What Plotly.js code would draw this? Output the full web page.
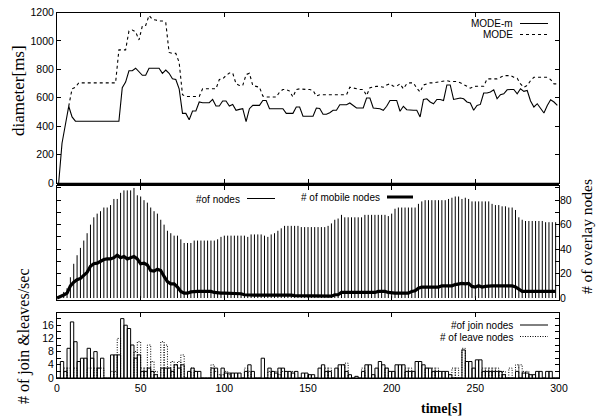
<!DOCTYPE html>
<html><head><meta charset="utf-8">
<script src="https://cdn.plot.ly/plotly-3.0.1.min.js"></script>
<style>html,body{margin:0;padding:0;background:#fff;}#chart{width:596px;height:419px;}</style>
</head><body><div id="chart"></div>
<script>
// ---------- DATA ----------
const timeOdd = [1,3,5,7,9,11,13,15,17,19,21,23,25,27,29,31,33,35,37,39,41,43,45,47,49,51,53,55,57,59,
61,63,65,67,69,71,73,75,77,79,81,83,85,87,89,91,93,95,97,99,101,103,105,107,109,111,113,115,117,119,
121,123,125,127,129,131,133,135,137,139,141,143,145,147,149,151,153,155,157,159,161,163,165,167,169,171,173,175,177,179,
181,183,185,187,189,191,193,195,197,199,201,203,205,207,209,211,213,215,217,219,221,223,225,227,229,231,233,235,237,239,
241,243,245,247,249,251,253,255,257,259,261,263,265,267,269,271,273,275,277,279,281,283,285,287,289,291,293,295,297,299];
const timeEven = [0,2,4,6,8,10,12,14,16,18,20,22,24,26,28,30,32,34,36,38,40,42,44,46,48,50,52,54,56,58,
60,62,64,66,68,70,72,74,76,78,80,82,84,86,88,90,92,94,96,98,100,102,104,106,108,110,112,114,116,118,
120,122,124,126,128,130,132,134,136,138,140,142,144,146,148,150,152,154,156,158,160,162,164,166,168,170,172,174,176,178,
180,182,184,186,188,190,192,194,196,198,200,202,204,206,208,210,212,214,216,218,220,222,224,226,228,230,232,234,236,238,
240,242,244,246,248,250,252,254,256,258,260,262,264,266,268,270,272,274,276,278,280,282,284,286,288,290,292,294,296,298];

// diameter [ms]
const modeM = [0,280,410,540,465,435,435,435,435,435,
435,435,435,435,435,435,435,435,435,670,
710,790,790,808,785,758,758,808,808,808,
808,772,795,772,733,728,663,490,490,445,
507,507,570,565,565,565,588,542,542,577,
577,542,553,512,518,523,432,523,546,546,
546,581,581,523,523,523,523,523,490,490,
490,535,535,470,470,470,470,528,525,484,
484,495,512,512,551,551,551,563,546,528,
528,528,598,598,528,528,523,512,540,581,
581,581,505,540,516,512,512,512,465,588,
593,570,558,588,588,581,690,690,588,593,
598,593,570,563,512,546,553,633,633,640,
656,593,621,628,656,658,658,628,663,645,
651,577,535,558,523,493,546,586,570,546];
const mode = [null,null,null,540,663,674,705,705,705,705,
705,705,705,705,705,705,705,705,937,937,
937,1070,1077,1063,1007,1105,1109,1179,1151,1147,
1140,1140,1128,919,912,912,849,621,609,609,
609,609,609,663,663,663,663,663,728,733,
756,774,774,698,686,686,763,772,686,681,
674,612,605,605,605,605,640,658,658,647,
605,658,663,658,658,658,651,612,621,621,
621,621,621,621,621,621,621,674,667,663,
658,658,616,670,674,681,679,674,690,698,
681,681,698,663,698,705,705,667,640,690,
698,705,705,709,714,721,721,714,714,714,
705,690,681,667,679,681,681,681,733,733,
737,733,744,756,756,756,744,737,698,674,
686,721,744,744,744,744,744,728,698,698];

// overlay nodes
const nodes = [0,1,5,8,17,28,35,41,47,53,
60,66,69,71,74,74,76,81,81,86,
88,88,88,90,84,83,80,78,74,71,
69,64,60,55,53,51,51,48,45,45,
45,47,47,47,47,47,47,47,48,50,
51,51,51,51,51,51,51,50,52,52,
52,52,51,50,52,53,55,57,59,59,
59,59,59,58,58,58,58,58,58,58,
58,59,61,64,65,68,66,66,66,66,
66,66,68,68,68,68,68,68,68,67,
69,73,74,74,74,74,74,74,77,79,
80,80,80,80,80,80,80,81,82,83,
83,81,82,81,79,79,79,79,79,79,
77,76,76,75,75,74,74,72,66,64,
63,63,63,63,63,63,62,62,62,62];
const mobile = [0,1,2.5,4,10,13,15,16,18.5,21,
26,28,28.5,30,31.5,32,32,33,35,33,
34,32,33,34,32,28,28.5,27,22.5,22,
23.6,22.5,17.6,13.5,11.6,11.6,9,5.4,4,4,
5,5.4,5.4,5.4,5.4,5.4,5.4,4.6,4,4,
4,4,3.5,3.5,3.5,3.5,2.7,2.4,2.4,2.4,
2.4,2.4,2.4,2.4,2.4,2.4,3,3,3,3,
2.4,2,2,2,2,2,2,1.5,1.5,1.5,
1.5,1.5,1.5,2.7,2.7,4.6,4.6,4.6,4.6,4.6,
4.6,4.6,4.6,4.6,4.6,4.6,5.4,5.4,5.4,4.6,
4,4,4,4,4,4,5.4,6,8,9,
9,9,9,9,9,10,10,10,10,11,
11.6,12,11.6,12,9.5,9,10,9,9.5,10,
10,10,10,10,10,10,10,9,7.3,5.4,
5.4,5.4,5.4,5.4,5.4,5,5.4,5.4,5.4,5.4];

// joins / leaves per second
const joins = [0,5,2,9,17,11,5,6,6,9,
6,8,3,6,0,0,7,7,7,18,
16,15,10,6,7,2,2,3,2,1,
0,3,3,3,2,4,3,4,0,2,
3,2,2,0,0,0,3,3,0,3,
1.5,1.5,1.5,1.5,1.5,0,2,4,2,0,
0,6,0,3,2,1.5,3,3,2,2,
1.5,2,0,1.5,1.5,1,1,0,3,4,
2,2,0,3,4,4,2,1,0,0.5,
0,2,4,4,1,3,5,4,3,2,
2,4,4,4,2,2,2,5,5,4,
3,3,2,2,2,2,2,1,0,0,
0,8.5,5,5,3,5.5,5.5,2,2,2,
2,2,2,1,0,0,0,2,0,1.5,
1.5,1,1,2,2,0,2,2,0,0];
const leaves = [0,0,3,3,0,3,0,0,0,3,
3,3,3,3,0,0,2,2,12,0,
0,0,0,8,11,3,3,10,5,2,
0,11,10,3,5,4,5,7,0,0,
3,2,0,0,0,0,4,2,1,1,
2,1,0,0,0,0,3,2,0,0,
0,0,0,2,2,2,1,2,0,0,
2,0,0,0,0,0,0,0,0,0,
3,3,0,0,0,4,4.5,0,0,0,
0,3,0,0,0,0,0,0,3,0,
0,0,0,0,3,3,0,0,0,0,
3,0,3,3,0,0,0,0,3,3,
0,9,0,0,0,0,0,3,3,3,
3,3,2,2,0,3,0,4,4,2,
2,0,0,0,0,0,0,0,0,0];

const xTicks = [0,50,100,150,200,250,300];
const xTickText = ['0','50','100','150','200','250','300'];
const diamTicks = [0,200,400,600,800,1000,1200];
const overlayTicks = [0,20,40,60,80];
const leftMidTicks = [10,20,30,40,50,60,70,80,90];
const rateTicks = [0,2,4,6,8,10,12,14,16,18];
const rateTickText = ['0','','4','','8','','12','','16',''];

// ---------- helpers ----------
const W=596, H=419;
const fx = x => x/W, fy = y => 1 - y/H;
const SANS = 'Liberation Sans, Arial, sans-serif';
const SERIF = 'Liberation Serif, Times New Roman, serif';

// impulses for # of nodes: built from data
const impX=[], impY=[];
timeEven.forEach((t,i)=>{ impX.push(t,t,null); impY.push(0,nodes[i],null); });
// leave boxes outline: built from data
const lvX=[], lvY=[];
timeOdd.forEach((t,i)=>{ if(leaves[i]>0){ lvX.push(t-1,t-1,t+1,t+1,null); lvY.push(0,leaves[i],leaves[i],0,null);} });

const traces = [
  {x: timeOdd, y: modeM, xaxis:'x', yaxis:'y', mode:'lines', line:{color:'#000', width:1.1}, name:'MODE-m'},
  {x: timeOdd, y: mode, xaxis:'x', yaxis:'y', mode:'lines', line:{color:'#000', width:1.1, dash:'3px,3px'}, name:'MODE'},
  {x: impX, y: impY, xaxis:'x2', yaxis:'y2', mode:'lines', line:{color:'#000', width:1}, name:'#of nodes'},
  {x: timeEven, y: mobile, xaxis:'x2', yaxis:'y3', mode:'lines', line:{color:'#000', width:3.2}, name:'# of mobile nodes'},
  {x: lvX, y: lvY, xaxis:'x3', yaxis:'y4', mode:'lines', line:{color:'#000', width:1, dash:'1px,1.5px'}, name:'# of leave nodes'},
  {type:'bar', x: timeOdd, y: joins, width: 2, xaxis:'x3', yaxis:'y4', marker:{color:'rgba(0,0,0,0)', line:{color:'#000', width:1}}, name:'#of join nodes'}
];

const tickfont = {family:SANS, size:10.5, color:'#000'};
const legfont = {family:SANS, size:10, color:'#000'};
const xBase = {domain:[fx(57), fx(559)], range:[0,300], tickvals:xTicks, ticktext:xTickText, ticks:'inside', ticklen:4, tickcolor:'#000',
  showline:true, linecolor:'#000', linewidth:1, mirror:'ticks', showgrid:false, zeroline:false, tickfont:tickfont, fixedrange:true};
const yBase = {ticks:'inside', ticklen:4, tickcolor:'#000', showline:true, linecolor:'#000', linewidth:1, mirror:'ticks',
  showgrid:false, zeroline:false, tickfont:tickfont, fixedrange:true};

function leg(text, x, y){ return {text:text, x:fx(x), y:fy(y), xref:'paper', yref:'paper', xanchor:'right', yanchor:'middle', showarrow:false, borderpad:0, font:legfont}; }
function sample(x0, x1, y, width, dash){ return {type:'line', xref:'paper', yref:'paper', x0:fx(x0), x1:fx(x1), y0:fy(y), y1:fy(y), line:{color:'#000', width:width, dash:dash||'solid'}}; }

const layout = {
  width:W, height:H, margin:{l:0,r:0,t:0,b:0}, paper_bgcolor:'#fff', plot_bgcolor:'#fff', showlegend:false,
  xaxis: Object.assign({}, xBase, {anchor:'y', showticklabels:false}),
  yaxis: Object.assign({}, yBase, {anchor:'x', domain:[fy(183), fy(12.5)], range:[0,1200], tickvals:diamTicks}),
  xaxis2: Object.assign({}, xBase, {anchor:'y2', showticklabels:false}),
  yaxis2: Object.assign({}, yBase, {anchor:'x2', domain:[fy(300), fy(185.5)], range:[-1.6,92], tickvals:leftMidTicks, showticklabels:false}),
  yaxis3: {overlaying:'y2', side:'right', anchor:'x2', range:[-1.6,92], tickvals:overlayTicks, ticks:'', showline:false, showgrid:false, zeroline:false, tickfont:tickfont, fixedrange:true},
  xaxis3: Object.assign({}, xBase, {anchor:'y4', showticklabels:true}),
  yaxis4: Object.assign({}, yBase, {anchor:'x3', domain:[fy(378), fy(313)], range:[0,19.7], tickvals:rateTicks, ticktext:rateTickText}),
  barmode:'overlay',
  shapes: [
    sample(57, 559, 184.3, 3),
    sample(520, 548, 23.5, 1),
    sample(520, 548, 34.5, 1, '3px,3px'),
    sample(247, 275, 198.5, 1),
    sample(387, 413, 197, 3),
    sample(520, 548, 325, 1),
    sample(520, 548, 336.5, 1, '1px,1.5px')
  ],
  annotations: [
    leg('MODE-m', 514, 23.5),
    leg('MODE', 514, 34.5),
    leg('#of nodes', 241, 199),
    leg('# of mobile nodes', 381, 197),
    leg('#of join nodes', 514, 325.5),
    leg('# of leave nodes', 514, 337),
    {text:'diameter[ms]', x:fx(19), y:fy(91), xref:'paper', yref:'paper', xanchor:'center', yanchor:'middle', textangle:-90, showarrow:false, font:{family:SERIF, size:17, color:'#000'}},
    {text:'# of join &leaves/sec', x:fx(24), y:fy(336), xref:'paper', yref:'paper', xanchor:'center', yanchor:'middle', textangle:-90, showarrow:false, font:{family:SERIF, size:16, color:'#000'}},
    {text:'# of overlay nodes', x:fx(586), y:fy(237), xref:'paper', yref:'paper', xanchor:'center', yanchor:'middle', textangle:-90, showarrow:false, font:{family:SERIF, size:15.5, color:'#000'}},
    {text:'time[s]', x:fx(441), y:fy(408), xref:'paper', yref:'paper', xanchor:'center', yanchor:'middle', showarrow:false, font:{family:SERIF, size:14, color:'#000', weight:'bold'}}
  ]
};

Plotly.newPlot('chart', traces, layout, {staticPlot:true, displayModeBar:false});
</script>
</body></html>
